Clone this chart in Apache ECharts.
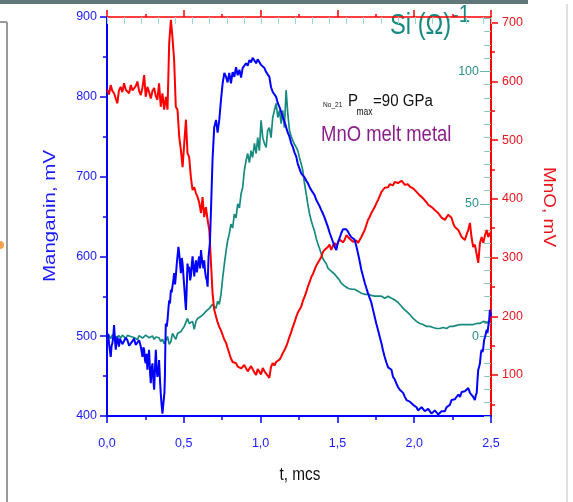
<!DOCTYPE html>
<html>
<head>
<meta charset="utf-8">
<script src="https://cdn.jsdelivr.net/npm/echarts@6/dist/echarts.min.js"></script>
<style>html,body{margin:0;padding:0;background:#fff;}#c{width:573px;height:502px;}</style>
</head>
<body>
<div id="c"></div>
<script>
// ---- data (time in mcs) ----
const manganin = [[0.002,497],[0.008,503],[0.013,491],[0.019,482],[0.024,474],[0.030,488],[0.035,491],[0.041,500],[0.046,514],[0.052,495],[0.057,483],[0.062,492],[0.067,499],[0.073,493],[0.078,487],[0.084,497],[0.089,495],[0.100,490],[0.111,489],[0.122,498],[0.133,495],[0.144,488],[0.155,491],[0.166,494],[0.176,497],[0.187,489],[0.198,491],[0.209,495],[0.220,487],[0.226,480],[0.231,474],[0.237,486],[0.242,483],[0.247,470],[0.252,466],[0.258,478],[0.263,458],[0.268,470],[0.274,483],[0.280,455],[0.285,441],[0.291,460],[0.296,466],[0.302,445],[0.307,433],[0.313,462],[0.318,483],[0.323,460],[0.328,449],[0.334,455],[0.339,470],[0.345,445],[0.350,428],[0.355,415],[0.361,403],[0.366,401],[0.370,405],[0.374,430],[0.377,449],[0.380,490],[0.383,516],[0.389,512],[0.394,520],[0.400,535],[0.405,545],[0.410,541],[0.416,558],[0.421,555],[0.426,562],[0.432,570],[0.437,579],[0.443,565],[0.448,575],[0.454,590],[0.459,600],[0.465,612],[0.470,604],[0.476,590],[0.481,579],[0.487,598],[0.492,591],[0.498,575],[0.503,562],[0.509,545],[0.514,533],[0.519,560],[0.524,591],[0.530,580],[0.535,587],[0.541,570],[0.546,575],[0.552,590],[0.557,600],[0.563,585],[0.568,575],[0.574,588],[0.579,595],[0.585,580],[0.590,587],[0.596,596],[0.601,600],[0.606,585],[0.612,608],[0.617,598],[0.622,591],[0.628,585],[0.633,595],[0.638,582],[0.644,574],[0.650,570],[0.655,562],[0.661,599],[0.670,617],[0.677,658],[0.687,721],[0.698,762],[0.710,771],[0.720,755],[0.731,771],[0.742,796],[0.753,817],[0.764,830],[0.775,825],[0.785,818],[0.796,830],[0.807,817],[0.818,831],[0.829,825],[0.840,837],[0.851,827],[0.862,834],[0.873,824],[0.883,836],[0.894,838],[0.905,842],[0.916,839],[0.927,846],[0.938,843],[0.948,849],[0.960,850],[0.971,842],[0.981,847],[0.992,846],[1.003,840],[1.014,842],[1.025,836],[1.036,831],[1.046,829],[1.057,825],[1.068,812],[1.079,806],[1.090,804],[1.101,800],[1.112,792],[1.123,787],[1.134,781],[1.144,775],[1.155,769],[1.166,762],[1.177,755],[1.188,750],[1.199,742],[1.210,737],[1.221,730],[1.232,725],[1.242,716],[1.253,710],[1.264,704],[1.275,702],[1.286,699],[1.297,695],[1.307,692],[1.319,687],[1.330,683],[1.341,681],[1.351,677],[1.362,671],[1.373,667],[1.384,663],[1.395,658],[1.405,654],[1.416,649],[1.427,643],[1.438,637],[1.449,630],[1.460,624],[1.471,618],[1.482,612],[1.493,608],[1.503,617],[1.514,623],[1.525,629],[1.536,634],[1.547,636],[1.558,634],[1.569,631],[1.580,627],[1.591,624],[1.601,623],[1.612,621],[1.623,613],[1.634,604],[1.645,594],[1.656,583],[1.667,575],[1.678,567],[1.689,560],[1.699,554],[1.710,548],[1.721,542],[1.732,533],[1.743,524],[1.753,516],[1.764,508],[1.776,499],[1.787,491],[1.797,482],[1.808,474],[1.819,467],[1.830,461],[1.841,460],[1.852,458],[1.862,449],[1.873,446],[1.884,441],[1.895,436],[1.906,433],[1.917,432],[1.928,429],[1.939,424],[1.950,420],[1.960,421],[1.971,418],[1.982,416],[1.993,414],[2.004,413],[2.015,411],[2.025,407],[2.037,408],[2.048,411],[2.058,410],[2.069,406],[2.080,405],[2.091,409],[2.102,408],[2.113,403],[2.123,404],[2.134,407],[2.146,405],[2.156,402],[2.167,404],[2.178,406],[2.189,408],[2.200,406],[2.211,411],[2.221,413],[2.232,414],[2.243,420],[2.254,418],[2.265,421],[2.276,423],[2.287,427],[2.298,424],[2.309,430],[2.319,429],[2.330,431],[2.341,433],[2.352,435],[2.363,429],[2.373,427],[2.384,424],[2.395,420],[2.401,426],[2.407,429],[2.412,445],[2.417,458],[2.423,462],[2.428,466],[2.434,478],[2.439,483],[2.445,480],[2.450,486],[2.455,495],[2.461,499],[2.466,497],[2.472,508],[2.477,504],[2.482,512],[2.488,520],[2.493,533],[2.5,525]];

const mno = [[0.002,586],[0.013,578],[0.024,594],[0.035,584],[0.046,580],[0.057,571],[0.067,563],[0.078,585],[0.089,591],[0.100,582],[0.111,597],[0.122,586],[0.133,589],[0.144,580],[0.155,594],[0.166,585],[0.176,583],[0.187,592],[0.198,600],[0.209,584],[0.220,577],[0.231,590],[0.242,611],[0.252,574],[0.263,591],[0.274,582],[0.285,571],[0.296,584],[0.307,589],[0.318,575],[0.328,569],[0.339,597],[0.350,557],[0.361,580],[0.372,552],[0.383,574],[0.394,552],[0.405,666],[0.416,705],[0.426,676],[0.437,637],[0.448,557],[0.459,552],[0.470,506],[0.481,483],[0.492,454],[0.503,495],[0.514,535],[0.524,478],[0.535,471],[0.546,437],[0.557,415],[0.568,420],[0.579,410],[0.590,403],[0.601,393],[0.612,376],[0.622,403],[0.633,369],[0.644,386],[0.655,364],[0.666,347],[0.677,291],[0.687,240],[0.698,211],[0.710,199],[0.720,190],[0.731,182],[0.742,176],[0.753,168],[0.764,160],[0.775,155],[0.785,146],[0.796,137],[0.807,128],[0.818,122],[0.829,125],[0.840,120],[0.851,114],[0.862,117],[0.873,111],[0.883,109],[0.894,117],[0.905,115],[0.916,106],[0.927,109],[0.938,115],[0.948,112],[0.960,104],[0.971,100],[0.981,110],[0.992,107],[1.003,101],[1.014,112],[1.025,106],[1.036,103],[1.046,99],[1.057,95],[1.068,114],[1.079,120],[1.090,116],[1.101,122],[1.112,121],[1.123,126],[1.134,131],[1.144,137],[1.155,142],[1.166,148],[1.177,156],[1.188,165],[1.199,173],[1.210,182],[1.221,190],[1.232,199],[1.242,206],[1.253,211],[1.264,216],[1.275,226],[1.286,233],[1.297,241],[1.307,250],[1.319,258],[1.330,267],[1.341,272],[1.351,279],[1.362,286],[1.373,291],[1.384,296],[1.395,301],[1.405,309],[1.416,313],[1.427,311],[1.438,318],[1.449,322],[1.460,313],[1.471,320],[1.482,325],[1.493,320],[1.503,325],[1.514,331],[1.525,330],[1.536,326],[1.547,330],[1.558,338],[1.569,335],[1.580,332],[1.591,330],[1.601,327],[1.612,325],[1.623,329],[1.634,325],[1.645,330],[1.656,335],[1.667,341],[1.678,347],[1.689,356],[1.699,364],[1.710,369],[1.721,376],[1.732,381],[1.743,386],[1.753,392],[1.764,398],[1.776,405],[1.787,412],[1.797,415],[1.808,419],[1.819,416],[1.830,420],[1.841,425],[1.852,427],[1.862,423],[1.873,429],[1.884,431],[1.895,427],[1.906,425],[1.917,431],[1.928,428],[1.939,424],[1.950,427],[1.960,425],[1.971,421],[1.982,420],[1.993,418],[2.004,415],[2.015,412],[2.025,410],[2.036,406],[2.048,403],[2.058,401],[2.069,398],[2.080,394],[2.091,390],[2.102,391],[2.113,386],[2.123,383],[2.134,381],[2.145,378],[2.156,376],[2.167,372],[2.178,368],[2.189,366],[2.200,364],[2.211,369],[2.221,373],[2.232,371],[2.243,368],[2.254,358],[2.265,352],[2.276,350],[2.287,347],[2.298,341],[2.309,335],[2.319,333],[2.330,330],[2.341,339],[2.352,347],[2.363,359],[2.373,335],[2.384,318],[2.395,322],[2.407,325],[2.417,291],[2.428,325],[2.439,335],[2.450,325],[2.461,338],[2.472,347],[2.482,335],[2.493,342],[2.5,336]];

const si = [[0.002,-1.1],[0.013,0.4],[0.024,-0.8],[0.035,0.6],[0.046,0.8],[0.057,-0.3],[0.067,-0.4],[0.078,0.3],[0.089,-0.6],[0.100,0.5],[0.111,0],[0.122,-0.7],[0.133,0.4],[0.144,-0.3],[0.155,0],[0.166,0.6],[0.176,-0.4],[0.187,0.2],[0.198,-1.1],[0.209,0.3],[0.220,0],[0.231,-0.6],[0.242,-0.4],[0.252,0.5],[0.263,0],[0.274,-0.5],[0.285,-0.8],[0.296,0.2],[0.307,-1.1],[0.318,-0.2],[0.328,-0.8],[0.339,-0.5],[0.350,-1.9],[0.361,-1.0],[0.372,-2.7],[0.383,-1.5],[0.394,0],[0.405,-3.0],[0.416,-1.9],[0.426,1.1],[0.437,0.8],[0.448,-1.1],[0.459,1.1],[0.470,0.6],[0.481,1.9],[0.492,2.6],[0.503,3.8],[0.514,4.5],[0.524,6.8],[0.535,4.9],[0.546,4.5],[0.557,5.7],[0.568,2.7],[0.579,5.7],[0.590,6.8],[0.601,6.2],[0.612,7.6],[0.622,7.9],[0.633,8.7],[0.644,9.5],[0.655,9.1],[0.666,10.6],[0.677,11.0],[0.687,12.1],[0.698,11.4],[0.710,10.6],[0.720,13.3],[0.731,12.1],[0.742,15.9],[0.753,22.0],[0.764,27.3],[0.775,32.2],[0.785,36.0],[0.796,38.7],[0.807,42.4],[0.818,40.9],[0.829,46.2],[0.840,44.7],[0.851,50.0],[0.862,48.5],[0.873,53.8],[0.883,56.1],[0.894,62.5],[0.905,66.3],[0.916,69.0],[0.927,65.6],[0.938,70.1],[0.948,67.5],[0.960,72.8],[0.971,69.0],[0.981,75.0],[0.992,70.1],[1.003,81.5],[1.014,75.0],[1.025,72.8],[1.036,71.3],[1.046,77.7],[1.057,78.8],[1.068,75.0],[1.079,82.6],[1.090,85.3],[1.101,87.9],[1.112,82.6],[1.123,85.3],[1.134,80.3],[1.144,85.3],[1.155,78.8],[1.166,92.9],[1.173,93.2],[1.177,84.1],[1.188,77.7],[1.199,75.5],[1.210,73.9],[1.221,72.4],[1.232,71.3],[1.242,70.1],[1.253,67.5],[1.264,65.2],[1.275,62.5],[1.286,57.6],[1.297,53.8],[1.307,50.0],[1.319,46.2],[1.330,43.6],[1.341,41.5],[1.351,39.8],[1.362,37.0],[1.373,34.9],[1.384,33.2],[1.395,31.1],[1.405,29.4],[1.416,28.4],[1.427,27.5],[1.438,25.8],[1.449,25.3],[1.460,24.6],[1.471,24.0],[1.482,23.5],[1.493,22.9],[1.503,22.0],[1.514,21.2],[1.525,20.1],[1.536,19.7],[1.547,19.0],[1.558,18.9],[1.569,18.2],[1.580,18.4],[1.591,17.8],[1.601,17.4],[1.612,17.8],[1.623,17.5],[1.634,17.1],[1.645,16.8],[1.656,16.3],[1.667,16.5],[1.678,15.9],[1.689,16.2],[1.699,15.9],[1.710,15.4],[1.721,15.5],[1.732,15.0],[1.743,15.2],[1.753,15.6],[1.764,15.2],[1.776,14.8],[1.787,15.2],[1.797,14.6],[1.808,14.4],[1.819,14.9],[1.830,15.2],[1.841,14.7],[1.852,14.4],[1.862,14.2],[1.873,13.8],[1.884,13.3],[1.895,12.8],[1.906,12.1],[1.917,11.4],[1.928,10.6],[1.939,10.1],[1.950,9.5],[1.960,8.9],[1.971,8.3],[1.982,7.6],[1.993,6.8],[2.004,6.2],[2.015,5.7],[2.025,5.3],[2.037,4.9],[2.048,4.6],[2.058,4.5],[2.069,4.1],[2.080,3.8],[2.091,3.5],[2.102,3.8],[2.113,3.3],[2.123,3.4],[2.134,3.1],[2.146,3.0],[2.156,3.3],[2.167,3.0],[2.178,3.2],[2.189,3.4],[2.200,3.0],[2.211,3.0],[2.221,3.5],[2.232,3.8],[2.243,3.6],[2.254,3.8],[2.265,4.0],[2.276,4.2],[2.287,4.0],[2.298,4.5],[2.309,4.3],[2.319,4.5],[2.330,4.7],[2.341,4.5],[2.352,4.3],[2.363,4.5],[2.373,4.8],[2.384,4.5],[2.395,4.6],[2.407,4.9],[2.417,4.6],[2.428,4.9],[2.439,5.2],[2.450,5.7],[2.461,5.3],[2.472,5.3],[2.482,5.9],[2.493,5.7]];

const redTicks = [100, 200, 300, 400, 500, 600, 700];
const redMinorTicks = [50, 150, 250, 350, 450, 550, 650];
const tealTicks = [0, 50, 100];
const tealMinorTicks = [-30,-25,-20,-15,-10,-5,5,10,15,20,25,30,35,40,45,55,60,65,70,75,80,85,90,95,105,110,115,120];

const BLUE = '#0000ff', BLUE_T = '#1a1aff', RED = '#ff0000', RED_T = '#e8141e', TEAL = '#168a7e', TEAL_T = '#2a9088', PURPLE = '#8b1e8b';
const FONT = "'Liberation Sans', Arial, sans-serif";
const SANS = "'Liberation Sans', Arial, sans-serif";

const chart = echarts.init(document.getElementById('c'), null, {renderer: 'canvas'});
chart.setOption({
  animation: false,
  backgroundColor: '#ffffff',
  grid: {left: 107, right: 82, top: 17, bottom: 86, containLabel: false, outerBoundsMode: 'none'},
  xAxis: [
    {type: 'value', position: 'bottom', min: 0, max: 2.5, interval: 0.5,
     axisLine: {onZero: false, lineStyle: {color: BLUE, width: 2}},
     axisTick: {length: 7, lineStyle: {color: BLUE, width: 1.5}},
     minorTick: {show: true, splitNumber: 2, length: 4, lineStyle: {color: BLUE, width: 1.5}},
     axisLabel: {color: BLUE_T, fontSize: 12.5, fontFamily: FONT, margin: 21,
                 formatter: v => v.toFixed(1).replace('.', ',')},
     splitLine: {show: false}},
    {type: 'value', position: 'top', min: 0, max: 2.5, interval: 0.5,
     axisLine: {onZero: false, lineStyle: {color: RED, width: 1.5}},
     axisTick: {length: 7, lineStyle: {color: RED, width: 1.5}},
     minorTick: {show: true, splitNumber: 2, length: 3, lineStyle: {color: RED, width: 1.5}},
     axisLabel: {show: false}, splitLine: {show: false}},
    {type: 'value', position: 'top', min: 0, max: 22.44, interval: 1,
     axisLine: {show: false, onZero: false},
     axisTick: {inside: true, length: 7, lineStyle: {color: '#a6d2d2', width: 1}},
     axisLabel: {show: false}, splitLine: {show: false}}
  ],
  yAxis: [
    {type: 'value', position: 'left', min: 400, max: 900, interval: 100,
     axisLine: {show: true, onZero: false, lineStyle: {color: BLUE, width: 2}},
     axisTick: {show: true, length: 7, lineStyle: {color: BLUE, width: 1.5}},
     minorTick: {show: true, splitNumber: 2, length: 4, lineStyle: {color: BLUE, width: 1.5}},
     axisLabel: {color: BLUE_T, fontSize: 12.5, fontFamily: FONT, margin: 10},
     splitLine: {show: false}},
    {type: 'value', position: 'right', min: 30, max: 710,
     axisLine: {show: true, onZero: false, lineStyle: {color: RED, width: 2}},
     axisTick: {show: true, length: 7, customValues: redTicks, lineStyle: {color: RED, width: 1.5}},
     axisLabel: {color: RED_T, fontSize: 12.5, fontFamily: FONT, margin: 11, customValues: redTicks},
     splitLine: {show: false}},
    {type: 'value', position: 'right', min: -30, max: 120.5,
     axisLine: {show: false, onZero: false},
     axisTick: {show: true, inside: true, length: 11, customValues: tealTicks, lineStyle: {color: '#6fb5ad', width: 1}},
     axisLabel: {inside: true, color: TEAL_T, fontSize: 12.5, fontFamily: FONT, margin: 12, customValues: tealTicks},
     splitLine: {show: false}},
    {type: 'value', position: 'right', min: 30, max: 710,
     axisLine: {show: false, onZero: false},
     axisTick: {show: true, length: 4, customValues: redMinorTicks, lineStyle: {color: RED, width: 1.5}},
     axisLabel: {show: false}, splitLine: {show: false}},
    {type: 'value', position: 'right', min: -30, max: 120.5,
     axisLine: {show: false, onZero: false},
     axisTick: {show: true, inside: true, length: 7, customValues: tealMinorTicks, lineStyle: {color: '#8cc4be', width: 1}},
     axisLabel: {show: false}, splitLine: {show: false}}
  ],
  series: [
    {name: 'Si', type: 'line', xAxisIndex: 0, yAxisIndex: 2, data: si, showSymbol: false, symbol: 'none',
     lineStyle: {color: TEAL, width: 1.7}, z: 3},
    {name: 'MnO', type: 'line', xAxisIndex: 0, yAxisIndex: 1, data: mno, showSymbol: false, symbol: 'none',
     lineStyle: {color: RED, width: 2}, z: 4},
    {name: 'Manganin', type: 'line', xAxisIndex: 0, yAxisIndex: 0, data: manganin, showSymbol: false, symbol: 'none',
     lineStyle: {color: BLUE, width: 2}, z: 5}
  ],
  graphic: {elements: [
    {type: 'rect', shape: {x: 0, y: 0, width: 528, height: 4}, style: {fill: '#5f7777'}, silent: true},
    {type: 'line', shape: {x1: 7, y1: 22, x2: 7, y2: 502}, style: {stroke: '#9a9a9a', lineWidth: 2}, silent: true},
    {type: 'line', shape: {x1: 0, y1: 22, x2: 7, y2: 22}, style: {stroke: '#9a9a9a', lineWidth: 2}, silent: true},
    {type: 'line', shape: {x1: 567, y1: 4, x2: 567, y2: 502}, style: {stroke: '#d6d6d6', lineWidth: 1.5}, silent: true},
    {type: 'circle', shape: {cx: 0, cy: 245, r: 4}, style: {fill: '#f2a24a'}, silent: true},
    {type: 'text', x: 50.5, y: 216, rotation: Math.PI / 2, scaleY: 0.8,
     style: {text: 'Manganin, mV', fontSize: 20.5, fontFamily: SANS, fill: BLUE_T, align: 'center', verticalAlign: 'middle', textAlign: 'center', textVerticalAlign: 'middle'}},
    {type: 'text', x: 548, y: 207, rotation: -Math.PI / 2, scaleY: 0.85,
     style: {text: 'MnO, mV', fontSize: 19, fontFamily: SANS, fill: RED_T, align: 'center', verticalAlign: 'middle', textAlign: 'center', textVerticalAlign: 'middle'}},
    {type: 'text', x: 300, y: 475.5, scaleX: 0.85,
     style: {text: 't, mcs', fontSize: 18, fontFamily: SANS, fill: '#111111', align: 'center', verticalAlign: 'middle', textAlign: 'center', textVerticalAlign: 'middle'}},
    {type: 'text', x: 390, y: 26, scaleX: 0.79,
     style: {text: 'Si (\u03A9)', fontSize: 30, fontFamily: SANS, fill: TEAL, align: 'left', verticalAlign: 'middle', textAlign: 'left', textVerticalAlign: 'middle'}},
    {type: 'text', x: 452, y: 15.5, scaleX: 0.85,
     style: {text: '-1', fontSize: 24, fontFamily: SANS, fill: TEAL, align: 'left', verticalAlign: 'middle', textAlign: 'left', textVerticalAlign: 'middle'}},
    {type: 'text', x: 323, y: 105, scaleX: 0.82,
     style: {text: 'No_21', fontSize: 8, fontFamily: SANS, fill: '#111111', align: 'left', verticalAlign: 'middle', textAlign: 'left', textVerticalAlign: 'middle'}},
    {type: 'text', x: 348, y: 101.7, scaleX: 0.94,
     style: {text: 'P', fontSize: 16, fontFamily: SANS, fill: '#111111', align: 'left', verticalAlign: 'middle', textAlign: 'left', textVerticalAlign: 'middle'}},
    {type: 'text', x: 356.5, y: 112, scaleX: 0.85,
     style: {text: 'max', fontSize: 10, fontFamily: SANS, fill: '#111111', align: 'left', verticalAlign: 'middle', textAlign: 'left', textVerticalAlign: 'middle'}},
    {type: 'text', x: 373, y: 101.7, scaleX: 0.94,
     style: {text: '=90 GPa', fontSize: 16, fontFamily: SANS, fill: '#111111', align: 'left', verticalAlign: 'middle', textAlign: 'left', textVerticalAlign: 'middle'}},
    {type: 'text', x: 321, y: 135, scaleX: 0.84,
     style: {text: 'MnO melt metal', fontSize: 22, fontFamily: SANS, fill: PURPLE, align: 'left', verticalAlign: 'middle', textAlign: 'left', textVerticalAlign: 'middle'}}
  ]}
});
</script>
</body>
</html>
